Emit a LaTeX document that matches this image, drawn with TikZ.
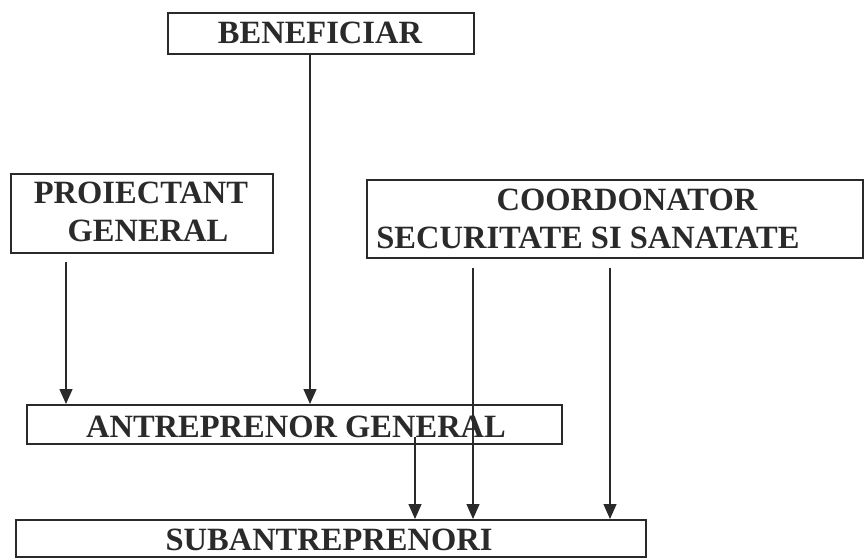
\documentclass[tikz,border=0pt]{standalone}
\usepackage{fontspec}
\setmainfont{Liberation Serif}
\usetikzlibrary{arrows.meta}
\definecolor{ink}{HTML}{2A2A2A}
\tikzset{
  box/.style={draw=ink, line width=1.5pt, rectangle, inner sep=0pt, anchor=north west},
  lbl/.style={inner sep=0pt, anchor=base, text=ink, font=\bfseries\fontsize{32.5}{38}\selectfont},
  conn/.style={draw=ink, line width=1.3pt, -{Triangle[length=15pt,width=13pt]}}
}
\begin{document}
\begin{tikzpicture}[x=1pt,y=-1pt]
\useasboundingbox (0,0) rectangle (864,557);
% boxes
\node[box, minimum width=306pt, minimum height=41pt] (ben) at (167,12) {};
\node[box, minimum width=262pt, minimum height=79pt] (proj) at (10,173) {};
\node[box, minimum width=496pt, minimum height=78pt] (coord) at (366,179) {};
\node[box, minimum width=535pt, minimum height=39pt] (ant) at (26,404) {};
\node[box, minimum width=630pt, minimum height=37pt] (sub) at (15,519) {};
% texts
\node[lbl] (tben) at (320,43) {BENEFICIAR};
\node[lbl] (tproj1) at (141,203) {PROIECTANT};
\node[lbl] (tproj2) at (148,241) {GENERAL};
\node[lbl] (tcoord1) at (627,210) {COORDONATOR};
\node[lbl] (tcoord2) at (588,248) {SECURITATE SI SANATATE};
\node[lbl] (tant) at (296,437) {ANTREPRENOR GENERAL};
\node[lbl] (tsub) at (329,550) {SUBANTREPRENORI};
% connectors
\coordinate (bx) at (310,0);
\coordinate (px) at (66,0);
\coordinate (c1) at (473,0);
\coordinate (c2) at (610,0);
\coordinate (ax) at (415,0);
\draw[conn] (ben.south -| bx) -- (ant.north -| bx);
\draw[conn, shorten <=8pt] (proj.south -| px) -- (ant.north -| px);
\draw[conn, shorten <=9pt] (coord.south -| c1) -- (sub.north -| c1);
\draw[conn, shorten <=9pt] (coord.south -| c2) -- (sub.north -| c2);
\draw[conn, shorten <=-8pt] (ant.south -| ax) -- (sub.north -| ax);
\end{tikzpicture}
\end{document}
